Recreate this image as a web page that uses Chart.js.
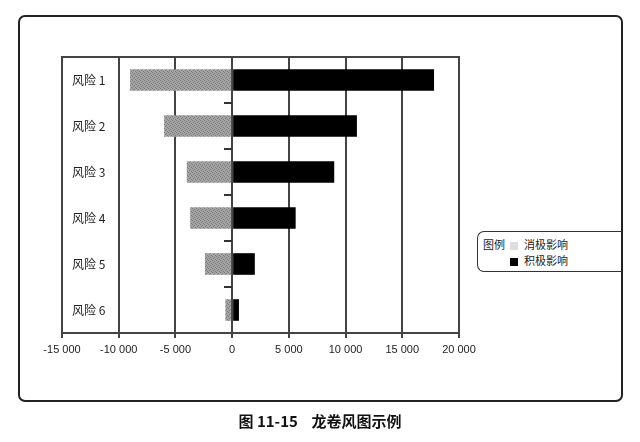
<!DOCTYPE html>
<html>
<head>
<meta charset="utf-8">
<script src="https://cdn.jsdelivr.net/npm/chart.js@4.4.0/dist/chart.umd.min.js"></script>
<style>
  html, body { margin: 0; padding: 0; background: #fff; }
  body { width: 640px; height: 442px; position: relative; overflow: hidden;
         font-family: "Noto Sans CJK SC", "DejaVu Sans", sans-serif; }
  #frame { position: absolute; left: 18px; top: 15px; width: 601px; height: 383px;
           border: 2px solid #222; border-radius: 7px; }
  #wrap { position: absolute; left: 0; top: 0; width: 640px; height: 442px; }
  #legend { position: absolute; left: 477px; top: 231px; width: 143px; height: 39px;
            border: 1.5px solid #333; border-right: none; border-radius: 7px 0 0 7px;
            font-size: 11px; color: #222; background: #fff; }
  #legend .row { position: absolute; left: 5px; height: 14px; line-height: 14px; white-space: nowrap; }
  #legend .sw { display: inline-block; width: 8px; height: 8px; vertical-align: -1px; margin-right: 6px; }
  #caption { position: absolute; left: 0; width: 640px; top: 410px; text-align: center;
             font-size: 15px; font-weight: bold; color: #111; }
</style>
</head>
<body>
<div id="frame"></div>
<div id="wrap"><canvas id="tornado-chart" width="640" height="442"></canvas></div>
<div id="legend">
  <div class="row" style="top:5px;">图例&nbsp;&nbsp;<span class="sw" style="background:#ddd;"></span>消极影响</div>
  <div class="row" style="top:21px;"><span style="visibility:hidden;">图例&nbsp;&nbsp;</span><span class="sw" style="background:#000;"></span>积极影响</div>
</div>
<div id="caption">图 11-15&nbsp;&nbsp;&nbsp;&nbsp;龙卷风图示例</div>
<script>
// Категории и значения
const riskLabels = ['风险 1', '风险 2', '风险 3', '风险 4', '风险 5', '风险 6'];
const negativeImpact = [-9000, -6000, -4000, -3700, -2400, -600];
const positiveImpact = [17800, 11000, 9000, 5600, 2000, 600];
const xTicks = [-15000, -10000, -5000, 0, 5000, 10000, 15000, 20000];

// Серый "зернистый" узор для отрицательных столбцов
function makeStipple() {
    const c = document.createElement('canvas');
    c.width = 4; c.height = 4;
    const g = c.getContext('2d');
    g.fillStyle = '#a4a4a4';
    g.fillRect(0, 0, 4, 4);
    g.fillStyle = '#7a7a7a';
    g.fillRect(0, 0, 1, 1); g.fillRect(2, 1, 1, 1); g.fillRect(1, 2, 1, 1); g.fillRect(3, 3, 1, 1);
    return g.createPattern(c, 'repeat');
}

// Рамка области построения
const plotBorder = {
    id: 'plotBorder',
    afterDraw(chart) {
        const a = chart.chartArea, ctx = chart.ctx;
        ctx.save();
        ctx.strokeStyle = '#444';
        ctx.lineWidth = 2;
        ctx.strokeRect(a.left, a.top, a.right - a.left, a.bottom - a.top);
        ctx.restore();
    }
};

function fmt(v) {
    const s = Math.abs(v).toString().replace(/\B(?=(\d{3})+(?!\d))/g, ' ');
    return (v < 0 ? '-' : '') + s;
}

const ctx = document.getElementById('tornado-chart').getContext('2d');
const tornadoChart = new Chart(ctx, {
    type: 'bar',
    data: {
        labels: riskLabels,
        datasets: [{
            label: '消极影响',
            data: negativeImpact,
            backgroundColor: makeStipple(),
            borderWidth: 0,
            yAxisID: 'y'
        }, {
            label: '积极影响',
            data: positiveImpact,
            backgroundColor: '#000',
            borderWidth: 0,
            yAxisID: 'y'
        }]
    },
    options: {
        indexAxis: 'y',
        responsive: false,
        animation: false,
        layout: { padding: { left: 62, top: 57, right: 181, bottom: 79 } },
        plugins: { legend: { display: false }, tooltip: { enabled: false } },
        datasets: { bar: { barPercentage: 0.5, categoryPercentage: 0.94 } },
        scales: {
            x: {
                type: 'linear',
                stacked: true,
                min: -15000,
                max: 20000,
                afterBuildTicks: (s) => { s.ticks = xTicks.map(v => ({ value: v })); },
                afterFit: (s) => { s.height = 30; },
                grid: { color: '#444', lineWidth: 2, tickLength: 5, drawTicks: true },
                border: { display: true, color: '#444', width: 2 },
                ticks: {
                    padding: 5,
                    color: '#222',
                    font: { family: 'Liberation Sans, Arial, sans-serif', size: 11 },
                    callback: (v) => fmt(v)
                }
            },
            y: {
                type: 'category',
                stacked: true,
                position: 'left',
                afterFit: (s) => { s.width = 0; },
                grid: { display: false },
                border: { display: false },
                ticks: {
                    mirror: true,
                    padding: 10,
                    color: '#222',
                    font: { family: 'Noto Sans CJK SC', size: 12 }
                }
            },
            y2: {
                type: 'category',
                labels: riskLabels,
                position: { x: 0 },
                offset: true,
                grid: { offset: true, drawOnChartArea: false, tickLength: 8, color: '#333', lineWidth: 2 },
                border: { display: false },
                ticks: { display: false }
            }
        }
    },
    plugins: [plotBorder]
});
</script>
</body>
</html>
